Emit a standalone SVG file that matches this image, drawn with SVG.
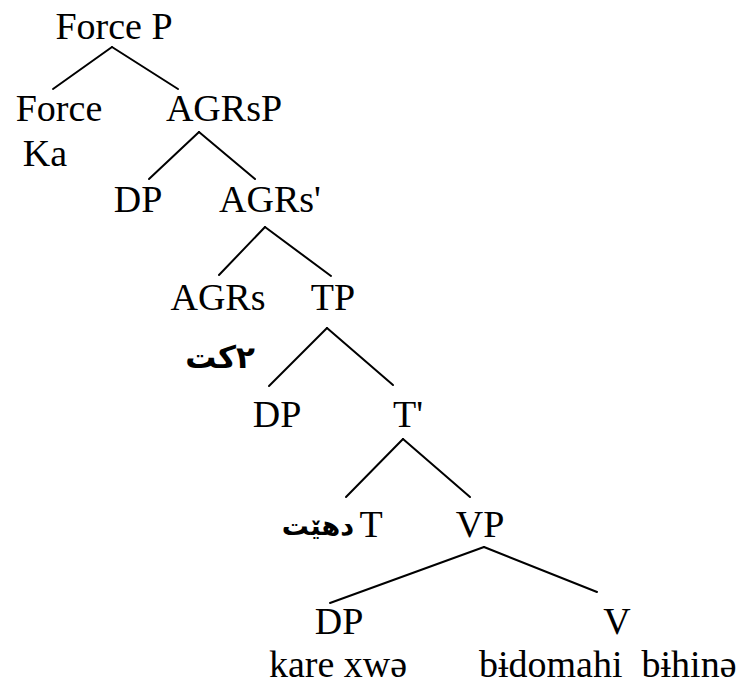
<svg xmlns="http://www.w3.org/2000/svg" width="749" height="686" viewBox="0 0 749 686">
<style>
.t{font-family:"Liberation Serif","Times New Roman",serif;font-size:38px;fill:#000;text-anchor:middle}
.s{text-anchor:start}
.a{font-family:"DejaVu Sans",sans-serif;font-weight:bold;font-size:27px;fill:#000}
.e line{stroke:#000;stroke-width:2;stroke-linecap:round}
</style>
<rect width="749" height="686" fill="#fff"/>
<g class="e" id="edges">
<line x1="112" y1="47" x2="53" y2="89"/>
<line x1="112" y1="47" x2="178" y2="89"/>
<line x1="199" y1="132" x2="149" y2="179"/>
<line x1="199" y1="132" x2="255" y2="179"/>
<line x1="265" y1="227" x2="219" y2="275"/>
<line x1="265" y1="227" x2="331" y2="276"/>
<line x1="327" y1="328" x2="269" y2="386"/>
<line x1="327" y1="328" x2="393" y2="385"/>
<line x1="403" y1="439" x2="346" y2="497"/>
<line x1="403" y1="439" x2="470" y2="497"/>
<line x1="484" y1="547" x2="330" y2="603"/>
<line x1="484" y1="547" x2="597" y2="592"/>
</g>
<g id="forceP"><text class="t" x="114" y="39">Force P</text></g>
<g id="force"><text class="t" x="59" y="121">Force</text><text class="t" x="45" y="166">Ka</text></g>
<g id="agrsP"><text class="t" x="224" y="121">AGRsP</text></g>
<g id="dp1"><text class="t" x="138" y="212">DP</text></g>
<g id="agrsBar"><text class="t" x="270" y="212">AGRs'</text></g>
<g id="agrs"><text class="t" x="218" y="310">AGRs</text><text class="a" style="font-size:31px" direction="rtl" unicode-bidi="embed" text-anchor="start" x="255" y="368">۲کت</text></g>
<g id="tp"><text class="t" x="333" y="310">TP</text></g>
<g id="dp2"><text class="t" x="277" y="427">DP</text></g>
<g id="tBar"><text class="t" x="408" y="427">T'</text></g>
<g id="t"><text class="a" direction="rtl" unicode-bidi="embed" text-anchor="start" x="354" y="535">دهێت</text><text class="t" x="371" y="537">T</text></g>
<g id="vp"><text class="t" x="480" y="537">VP</text></g>
<g id="dp3"><text class="t" x="339" y="634">DP</text><text class="t" x="338" y="677">kare xwə</text></g>
<g id="v"><text class="t" x="617" y="634">V</text><text class="t s" x="479" y="677" xml:space="preserve">bɨdomahi  bɨhinə</text></g>
</svg>
